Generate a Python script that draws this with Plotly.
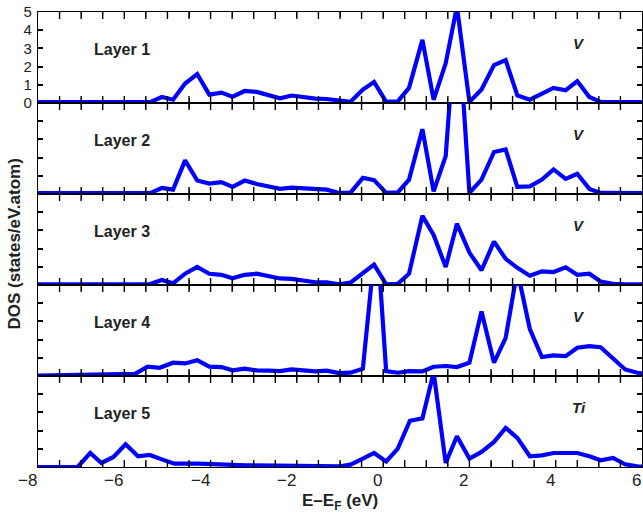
import plotly.graph_objects as go
from plotly.subplots import make_subplots

energy_v = [-8.0, -5.40, -5.13, -4.87, -4.59, -4.31, -4.03, -3.75, -3.49, -3.21, -2.93,
            -2.66, -2.39, -2.12, -1.84, -1.57, -1.31, -1.02, -0.76, -0.47, -0.21,
            0.07, 0.34, 0.60, 0.91, 1.17, 1.45, 1.71, 2.00, 2.28, 2.57, 2.84,
            3.11, 3.40, 3.68, 3.95, 4.23, 4.50, 4.78, 5.04, 5.33, 5.61, 6.0]

dos_layer1 = [0.05, 0.05, 0.33, 0.18, 1.07, 1.59, 0.46, 0.57, 0.35, 0.66, 0.61, 0.46, 0.26,
              0.41, 0.30, 0.24, 0.22, 0.15, 0.06, 0.74, 1.16, 0.06, 0.09, 0.83, 3.47, 0.18,
              2.18, 5.3, 0.06, 0.74, 2.08, 2.36, 0.42, 0.18, 0.52, 0.83, 0.70, 1.20, 0.33,
              0.06, 0.05, 0.05, 0.05]
dos_layer2 = [0.05, 0.05, 0.33, 0.24, 1.85, 0.74, 0.57, 0.65, 0.39, 0.74, 0.55, 0.42, 0.28,
              0.35, 0.30, 0.24, 0.24, 0.06, 0.06, 0.89, 0.76, 0.06, 0.09, 0.79, 3.56, 0.15,
              2.08, 10.5, 0.06, 0.79, 2.31, 2.45, 0.39, 0.42, 0.79, 1.35, 0.83, 1.11, 0.28,
              0.06, 0.05, 0.05, 0.05]
dos_layer3 = [0.03, 0.05, 0.28, 0.09, 0.62, 0.99, 0.62, 0.56, 0.37, 0.56, 0.62, 0.47, 0.36,
              0.34, 0.24, 0.15, 0.15, 0.04, 0.13, 0.62, 1.12, 0.03, 0.06, 0.62, 3.80, 2.75,
              0.99, 3.37, 1.78, 0.81, 2.38, 1.44, 0.94, 0.51, 0.75, 0.71, 0.97, 0.56, 0.62,
              0.19, 0.06, 0.03, 0.03]

energy_l4 = [-8.0, -6.5, -5.75, -5.46, -5.18, -4.87, -4.59, -4.31, -4.03, -3.75, -3.49,
             -3.21, -2.93, -2.66, -2.39, -2.12, -1.84, -1.57, -1.31, -1.02, -0.76, -0.47,
             -0.15, 0.07, 0.34, 0.60, 0.91, 1.17, 1.45, 1.71, 2.00, 2.28, 2.57, 2.84,
             3.11, 3.40, 3.68, 3.95, 4.23, 4.50, 4.78, 5.04, 5.33, 5.61, 5.89, 6.0]
dos_layer4 = [0.02, 0.05, 0.12, 0.51, 0.45, 0.73, 0.69, 0.87, 0.51, 0.49, 0.31, 0.40, 0.31,
              0.29, 0.27, 0.36, 0.31, 0.25, 0.29, 0.16, 0.18, 0.40, 8.0, 0.27, 0.18, 0.27,
              0.25, 0.51, 0.55, 0.49, 0.73, 3.55, 0.73, 2.09, 5.8, 2.58, 1.04, 1.13, 1.09,
              1.55, 1.64, 1.58, 0.96, 0.36, 0.18, 0.15]

energy_l5 = [-8.0, -7.08, -6.79, -6.53, -6.25, -5.97, -5.68, -5.41, -5.13, -4.84, -4.29,
             -3.18, -1.0, -0.76, -0.47, -0.21, 0.07, 0.34, 0.62, 0.91, 1.17, 1.45, 1.71,
             2.00, 2.28, 2.57, 2.84, 3.11, 3.40, 3.68, 3.95, 4.23, 4.50, 4.78, 5.04, 5.33,
             5.61, 5.89, 6.0]
dos_layer5 = [0.0, 0.0, 0.77, 0.22, 0.55, 1.25, 0.59, 0.66, 0.42, 0.18, 0.18, 0.09, 0.04,
              0.13, 0.46, 0.77, 0.31, 1.01, 2.54, 2.67, 5.2, 0.22, 1.69, 0.46, 0.83, 1.38,
              2.15, 1.60, 0.59, 0.64, 0.77, 0.79, 0.77, 0.59, 0.37, 0.50, 0.15, 0.04, 0.02]

layer_names = ["Layer 1", "Layer 2", "Layer 3", "Layer 4", "Layer 5"]
element_names = ["V", "V", "V", "V", "Ti"]
x_ticks = [-8, -6, -4, -2, 0, 2, 4, 6]
x_minor_ticks = [-7.5, -7, -6.5, -6, -5.5, -5, -4.5, -4, -3.5, -3, -2.5, -2, -1.5, -1,
                 -0.5, 0, 0.5, 1, 1.5, 2, 2.5, 3, 3.5, 4, 4.5, 5, 5.5]
y_ticks = [0, 1, 2, 3, 4, 5]
y_range = [0, 5]

series = [(energy_v, dos_layer1), (energy_v, dos_layer2), (energy_v, dos_layer3),
          (energy_l4, dos_layer4), (energy_l5, dos_layer5)]

FONT = "Liberation Sans, Arial, Helvetica, sans-serif"
TXT = "#222222"
fig = make_subplots(rows=5, cols=1, shared_xaxes=False, vertical_spacing=0)

for i, (xs, ys) in enumerate(series):
    r = i + 1
    fig.add_trace(go.Scatter(x=xs, y=ys, mode="lines",
                             line=dict(color="#0000ff", width=4.2),
                             showlegend=False, hoverinfo="skip"), row=r, col=1)
    # inward x tick marks on the bottom and top edges (clipped to the panel)
    for edge in y_range:
        fig.add_trace(go.Scatter(x=x_minor_ticks, y=[edge] * len(x_minor_ticks),
                                 mode="markers", cliponaxis=True,
                                 marker=dict(symbol="line-ns", size=10, color="black",
                                             line=dict(color="black", width=1.4)),
                                 showlegend=False, hoverinfo="skip"), row=r, col=1)
    fig.update_xaxes(range=[-8, 6], tickmode="array", tickvals=x_minor_ticks,
                     ticks="inside", ticklen=5, tickwidth=1.4, tickcolor="black",
                     showline=True, linecolor="black", linewidth=1.3, mirror="ticks",
                     showgrid=False, zeroline=False, showticklabels=False,
                     row=r, col=1)
    fig.update_yaxes(range=y_range, tickvals=y_ticks, ticks="inside", ticklen=5,
                     tickwidth=1.5, tickcolor="black",
                     showline=True, linecolor="black", linewidth=1.3, mirror="ticks",
                     showgrid=False, zeroline=False,
                     showticklabels=(r == 1), ticklabelstandoff=2,
                     tickfont=dict(family=FONT, size=15, color=TXT),
                     row=r, col=1)
    xref = "x" if r == 1 else f"x{r}"
    yref = "y" if r == 1 else f"y{r}"
    fig.add_annotation(x=-6.05, y=2.95, xref=xref, yref=yref, text=f"<b>{layer_names[i]}</b>",
                       showarrow=False, font=dict(family=FONT, size=16, color=TXT))
    fig.add_annotation(x=4.55, y=3.25, xref=xref, yref=yref,
                       text=f"<b><i>{element_names[i]}</i></b>",
                       showarrow=False, font=dict(family=FONT, size=15, color=TXT))

# x tick labels (right-aligned to their tick, as in the reference)
for v in x_ticks:
    label = f"\u2212{abs(v)}" if v < 0 else f"{v}"
    fig.add_annotation(x=v, y=-0.03, xref="x5", yref="paper", text=label,
                       xanchor="right", yanchor="middle", showarrow=False,
                       xshift=1, font=dict(family=FONT, size=17, color=TXT))

fig.add_annotation(x=-0.039, y=0.49, xref="paper", yref="paper", textangle=-90,
                   xanchor="center", yanchor="middle",
                   text="<b>DOS (states/eV.atom)</b>", showarrow=False,
                   font=dict(family=FONT, size=17, color=TXT))
fig.add_annotation(x=0.5, y=-0.077, xref="paper", yref="paper",
                   xanchor="center", yanchor="middle",
                   text="<b>E\u2013E<sub>F</sub> (eV)</b>", showarrow=False,
                   font=dict(family=FONT, size=17, color=TXT))

fig.update_layout(width=643, height=518, margin=dict(l=38, r=1, t=12, b=51),
                  plot_bgcolor="rgba(0,0,0,0)", paper_bgcolor="white",
                  font=dict(family=FONT, color="black"))

fig.write_html("out.html")
